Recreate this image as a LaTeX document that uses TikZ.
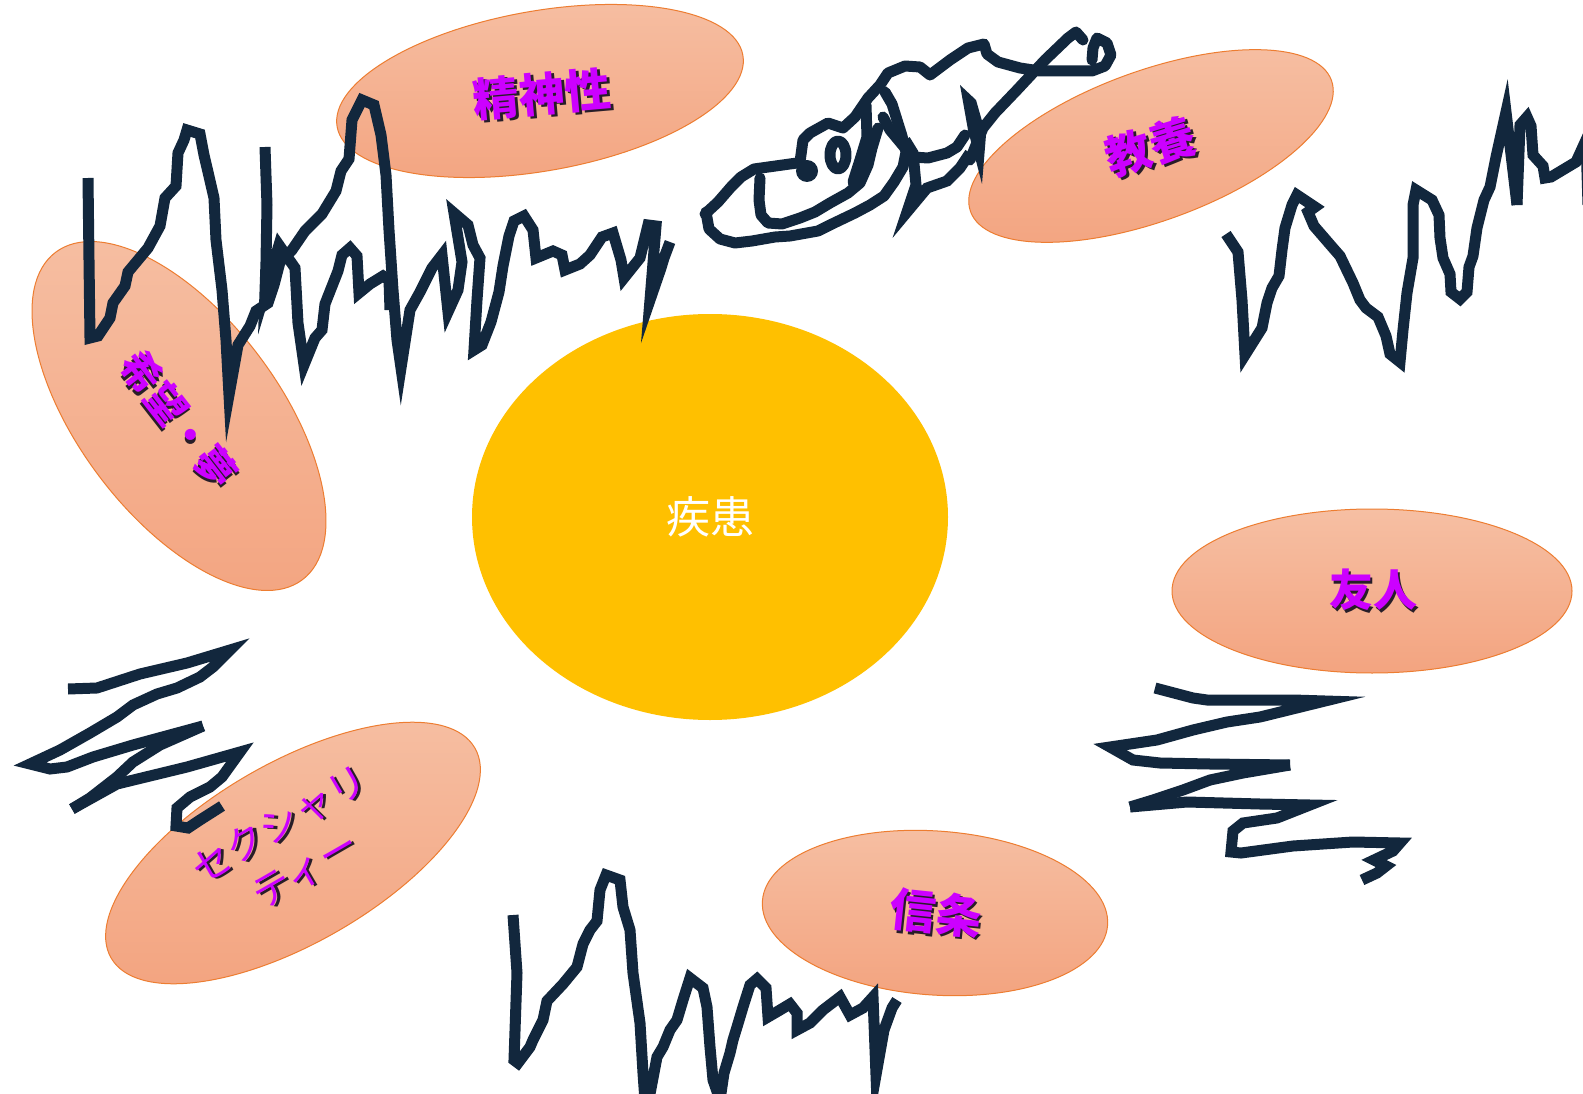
\documentclass[tikz,border=0pt]{standalone}
\usepackage{fontspec}
\usetikzlibrary{shapes.geometric}
\newfontfamily\jp{Noto Sans CJK JP}
\definecolor{scribble}{RGB}{18,39,61}
\definecolor{sunfill}{RGB}{255,192,0}
\definecolor{petaltop}{RGB}{246,191,163}
\definecolor{petalbot}{RGB}{243,164,128}
\definecolor{petaledge}{RGB}{237,125,49}
\definecolor{tagcolor}{RGB}{204,0,255}
\definecolor{tagshadow}{RGB}{40,30,40}
% magenta label with a small dark drop shadow
\newcommand\shtext[1]{\makebox[0pt][l]{\kern2.5pt\raisebox{-2.5pt}{\textcolor{tagshadow}{#1}}}\textcolor{tagcolor}{#1}}

\begin{document}
\begin{tikzpicture}[x=1pt,y=-1pt,
  petal/.style={ellipse, draw=petaledge, line width=1pt, top color=petaltop, bottom color=petalbot, inner sep=0pt},
  sun/.style={ellipse, fill=sunfill, inner sep=0pt, text=white, font=\jp\fontsize{44}{50}\selectfont},
  tagtext/.style={inner sep=0pt, align=center, font=\jp\bfseries\fontsize{46}{58}\selectfont},
  scrib/.style={draw=scribble, line width=11pt, line join=miter, miter limit=30},
  scribround/.style={draw=scribble, line width=11pt, line join=round, line cap=round},
]
\clip (0,0) rectangle (1583,1094);
\fill[white] (0,0) rectangle (1583,1094);

% central circle
\node[sun, minimum width=476pt, minimum height=406pt] (disease) at (710,517) {疾患};

% surrounding ellipses
\node[petal, minimum width=412pt, minimum height=160pt, rotate=10] (spirit) at (540,91) {};
\node[petal, minimum width=384pt, minimum height=150pt, rotate=20] (culture) at (1151,146) {};
\node[petal, minimum width=410pt, minimum height=200pt, rotate=-53] (hope) at (179,416) {};
\node[petal, minimum width=420pt, minimum height=180pt, rotate=30] (sexuality) at (293,853) {};
\node[petal, minimum width=400pt, minimum height=164pt] (friends) at (1372,591) {};
\node[petal, minimum width=346pt, minimum height=164pt, rotate=-4] (belief) at (935,913) {};

% --- scribbles ---
% top left
\draw[scrib] (88,178) -- (89,260) -- (90,338) -- (98,336) -- (110,318) -- (113,303) -- (125,286) -- (128,272)
  -- (148,248) -- (160,226) -- (165,198) -- (176,186) -- (178,153) -- (184,140) -- (187,130) -- (200,134)
  -- (204,155) -- (208,172) -- (214,198) -- (216,240) -- (222,290) -- (226,340) -- (229,395)
  -- (238,345) -- (250,326) -- (256,311) -- (268,303) -- (274,285) -- (280,262) -- (292,250) -- (305,231)
  -- (322,214) -- (336,191) -- (341,171) -- (349,159) -- (352,120) -- (362,100) -- (374,105) -- (381,135)
  -- (386,175) -- (389,230) -- (393,290) -- (397,340) -- (401,368)
  -- (410,310) -- (420,292) -- (432,268) -- (442,255) -- (448,312) -- (458,290) -- (462,262) -- (454,213)
  -- (468,225) -- (473,245) -- (480,258) -- (477,300) -- (474,350)
  -- (482,345) -- (491,322) -- (499,292) -- (503,266) -- (509,236) -- (514,221) -- (524,216) -- (533,230)
  -- (536,258) -- (553,251) -- (562,255) -- (565,270) -- (580,264) -- (590,255) -- (602,237) -- (613,233)
  -- (621,260) -- (624,278) -- (640,258) -- (648,225) -- (656,226) -- (650,300) -- (661,268) -- (664,258) -- (670,242);
\draw[scrib] (265,147) -- (267,205) -- (266,262) -- (265,292) -- (279,245) -- (295,268) -- (298,323) -- (304,365)
  -- (315,338) -- (322,330) -- (325,304) -- (338,271) -- (342,255) -- (350,248) -- (357,256) -- (359,293)
  -- (370,284) -- (383,276) -- (389,280) -- (390,310);

% top middle tangle
\draw[scribround] (705,214) -- (718,202) -- (731,187) -- (741,177) -- (754,169) -- (797,163);
\fill[scribble] (807,171) circle (11);
\draw[scribround] (706,212) -- (709,229) -- (720,239) -- (735,243) -- (752,241) -- (775,237) -- (790,236)
  -- (818,231) -- (832,224) -- (855,213) -- (870,205) -- (884,196) -- (894,182) -- (903,167) -- (906,152)
  -- (902,136) -- (897,120) -- (892,104) -- (885,92);
\draw[scribround] (760,178) -- (759,200) -- (761,215) -- (768,223) -- (782,224) -- (800,218) -- (815,212)
  -- (830,203) -- (848,193) -- (860,183) -- (868,165) -- (872,148) -- (878,128);
\draw[scribround] (800,162) -- (803,140) -- (810,133) -- (828,123) -- (843,128) -- (855,117) -- (868,98)
  -- (880,85) -- (888,73) -- (905,66) -- (920,67) -- (930,75) -- (950,60) -- (968,48) -- (984,44) -- (987,54)
  -- (998,62) -- (1020,68) -- (1040,71) -- (1092,71) -- (1105,66) -- (1111,55) -- (1107,43) -- (1097,38)
  -- (1093,48) -- (1092,60);
\draw[scribround] (838,155) ellipse (8 and 14);
\draw[scribround] (1083,40) -- (1076,32) -- (1068,38) -- (1045,60) -- (1017,90) -- (995,113) -- (983,128)
  -- (976,145) -- (970,160);
\fill[scribble] (960,85) -- (976,100) -- (986,135) -- (982,184) -- (968,130) -- cycle;
\draw[scrib] (905,140) -- (913,153) -- (916,185) -- (907,212) -- (927,188) -- (947,181) -- (960,168) -- (970,153);
\draw[scribround] (913,157) -- (928,158) -- (947,153) -- (957,147) -- (965,135);
\draw[scribround] (866,105) -- (867,137) -- (860,160) -- (853,182);
\draw[scribround] (883,117) -- (890,130) -- (905,148);

% top right
\draw[scrib] (1226,234) -- (1238,252) -- (1242,300) -- (1245,355) -- (1262,328) -- (1267,303) -- (1272,288)
  -- (1279,276) -- (1282,250) -- (1285,228) -- (1292,205) -- (1297,195) -- (1315,207) -- (1308,212)
  -- (1314,226) -- (1333,248) -- (1340,256) -- (1353,283) -- (1360,300) -- (1366,308) -- (1378,317)
  -- (1386,336) -- (1390,354) -- (1400,362) -- (1403,330) -- (1407,293) -- (1413,258) -- (1413,205)
  -- (1416,190) -- (1432,200) -- (1439,215) -- (1440,238) -- (1443,258) -- (1450,274) -- (1451,292)
  -- (1460,299) -- (1467,292) -- (1469,267) -- (1473,256) -- (1477,228) -- (1484,200) -- (1490,187)
  -- (1496,157) -- (1506,112) -- (1517,205);
\draw[scrib] (1517,205) -- (1520,125) -- (1527,117) -- (1531,126) -- (1533,155) -- (1543,166) -- (1545,178)
  -- (1551,177) -- (1576,162) -- (1586,140) -- (1588,205);

% left zigzag
\draw[scrib] (68,689) -- (97,688) -- (140,674) -- (187,663) -- (230,650) -- (213,667) -- (200,677)
  -- (177,688) -- (157,694) -- (133,705) -- (117,717) -- (90,733) -- (60,750) -- (30,764) -- (50,769)
  -- (67,767) -- (93,757) -- (133,745) -- (203,726);
\draw[scrib] (203,726) -- (160,745) -- (133,762) -- (117,777) -- (90,798) -- (72,809);
\draw[scrib] (72,809) -- (117,784) -- (187,767) -- (240,752) -- (222,777) -- (210,787) -- (190,797)
  -- (177,808) -- (176,826) -- (188,828) -- (200,820) -- (222,806);

% right zigzag
\draw[scrib] (1155,688) -- (1193,698) -- (1207,700) -- (1293,700) -- (1325,701) -- (1260,717) -- (1227,722)
  -- (1193,730) -- (1157,740) -- (1110,747) -- (1133,760) -- (1160,763) -- (1210,764) -- (1290,765);
\draw[scrib] (1290,765) -- (1243,773) -- (1210,780) -- (1183,790) -- (1153,800) -- (1130,807);
\draw[scrib] (1130,807) -- (1187,802) -- (1260,804) -- (1310,805) -- (1277,818) -- (1243,823) -- (1233,831)
  -- (1231,852) -- (1241,853) -- (1293,846) -- (1353,842) -- (1400,843) -- (1393,851) -- (1374,860)
  -- (1386,866) -- (1377,873) -- (1362,880);

% bottom
\draw[scrib] (513,915) -- (517,973) -- (514,1060) -- (518,1063) -- (530,1047) -- (533,1040) -- (543,1020)
  -- (547,1001) -- (563,984) -- (577,967) -- (583,944) -- (590,930) -- (597,921) -- (600,890) -- (606,875)
  -- (620,880) -- (623,907) -- (630,930) -- (633,973) -- (640,1023) -- (643,1073) -- (646,1115)
  -- (657,1057) -- (663,1047) -- (670,1030) -- (677,1020) -- (683,1000) -- (690,978) -- (703,988)
  -- (707,1007) -- (710,1047) -- (713,1080) -- (720,1100) -- (724,1073) -- (730,1053) -- (733,1040)
  -- (737,1027) -- (743,1007) -- (750,985) -- (757,979) -- (766,988) -- (768,1017) -- (780,1010)
  -- (790,1004) -- (797,1013) -- (797,1030) -- (810,1023) -- (823,1010) -- (840,997) -- (850,1015)
  -- (863,1008) -- (873,997) -- (876,1075) -- (884,1030) -- (892,1008) -- (897,1000);

% labels
\node[tagtext, rotate=5] (spirit-t) at (542,95) {\shtext{精神性}};
\node[tagtext, rotate=17] (culture-t) at (1151,148) {\shtext{教養}};
\node[tagtext, rotate=-52, font=\jp\bfseries\fontsize{40}{50}\selectfont] (hope-t) at (178,420) {\shtext{希望・夢}};
\node[tagtext, rotate=30, font=\jp\fontsize{39}{52}\selectfont] (sexuality-t) at (293,848) {\shtext{セクシャリ}\\\shtext{ティー}};
\node[tagtext, font=\jp\bfseries\fontsize{44}{56}\selectfont] (friends-t) at (1373,591) {\shtext{友人}};
\node[tagtext, rotate=-6] (belief-t) at (936,914) {\shtext{信条}};
\end{tikzpicture}
\end{document}
